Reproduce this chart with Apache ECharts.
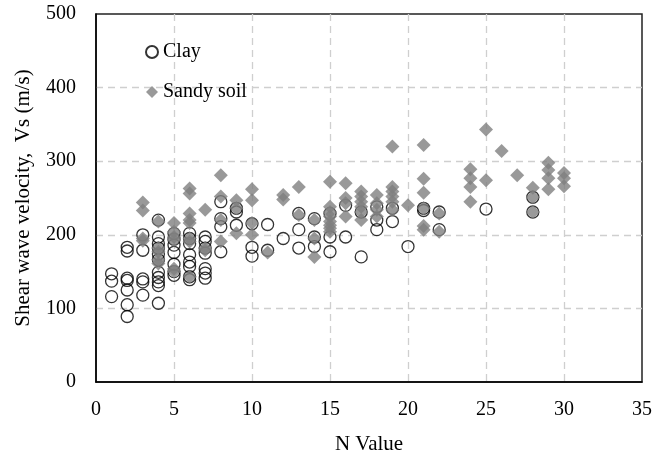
<!DOCTYPE html>
<html>
<head>
<meta charset="utf-8">
<title>Vs vs N</title>
<script src="https://cdn.jsdelivr.net/npm/echarts@6/dist/echarts.min.js"></script>
<style>
    html, body { margin: 0; padding: 0; background: #fff; }
    #scatter { width: 669px; height: 460px; }
</style>
</head>
<body>
<div id="scatter"></div>
<script>
// 数据 [N value, Vs]
var clayPoints = [
    [1, 147], [1, 137], [1, 116],
    [2, 183], [2, 178], [2, 141], [2, 138], [2, 125], [2, 105], [2, 89],
    [3, 200], [3, 179], [3, 140], [3, 136], [3, 118],
    [4, 220], [4, 197], [4, 188], [4, 182], [4, 174], [4, 166], [4, 149], [4, 142], [4, 136], [4, 131], [4, 107],
    [5, 202], [5, 194], [5, 186], [5, 176], [5, 160], [5, 150], [5, 145],
    [6, 202], [6, 195], [6, 188], [6, 173], [6, 163], [6, 157], [6, 143], [6, 139],
    [7, 197], [7, 191], [7, 182], [7, 175], [7, 154], [7, 148], [7, 141],
    [8, 245], [8, 222], [8, 211], [8, 177],
    [9, 236], [9, 231], [9, 213],
    [10, 215], [10, 183], [10, 171],
    [11, 214], [11, 179],
    [12, 195],
    [13, 229], [13, 207], [13, 182],
    [14, 222], [14, 197], [14, 184],
    [15, 229], [15, 197], [15, 177],
    [16, 240], [16, 197],
    [17, 231], [17, 170],
    [18, 238], [18, 220], [18, 207],
    [19, 236], [19, 218],
    [20, 184],
    [21, 236], [21, 233],
    [22, 231], [22, 207],
    [25, 235],
    [28, 251], [28, 231]
];
var sandPoints = [
    [3, 244], [3, 233], [3, 195], [3, 192],
    [4, 218], [4, 182], [4, 177], [4, 166], [4, 161],
    [5, 216], [5, 204], [5, 197], [5, 193], [5, 154], [5, 150],
    [6, 263], [6, 256], [6, 229], [6, 220], [6, 216], [6, 195], [6, 191], [6, 143],
    [7, 234], [7, 182], [7, 179],
    [8, 281], [8, 252], [8, 220], [8, 191],
    [9, 247], [9, 236], [9, 202],
    [10, 262], [10, 247], [10, 216], [10, 200],
    [11, 176],
    [12, 254], [12, 248],
    [13, 265], [13, 227],
    [14, 220], [14, 195], [14, 170],
    [15, 272], [15, 238], [15, 231], [15, 225], [15, 218], [15, 213], [15, 209], [15, 204],
    [16, 270], [16, 250], [16, 243], [16, 225],
    [17, 259], [17, 252], [17, 245], [17, 238], [17, 231], [17, 220],
    [18, 254], [18, 243], [18, 234], [18, 225],
    [19, 320], [19, 265], [19, 259], [19, 252], [19, 245], [19, 234],
    [20, 240],
    [21, 322], [21, 276], [21, 257], [21, 236], [21, 212], [21, 207],
    [22, 229], [22, 204],
    [24, 289], [24, 277], [24, 265], [24, 245],
    [25, 343], [25, 274],
    [26, 314],
    [27, 281],
    [28, 264], [28, 251], [28, 231],
    [29, 298], [29, 288], [29, 277], [29, 262],
    [30, 284], [30, 277], [30, 266]
];
var seriesNames = ['Clay', 'Sandy soil'];

var font = 'Liberation Serif';
var gridDash = { color: '#cfcfcf', type: [7, 5], width: 1.3 };

var chart = echarts.init(document.getElementById('scatter'));
var option = {
    animation: false,
    grid: {
        left: 96,
        right: 27,
        top: 14,
        bottom: 78,
        show: true,
        borderColor: '#222',
        borderWidth: 1.5
    },
    legend: {
        orient: 'vertical',
        left: 140,
        top: 37,
        itemWidth: 12,
        itemHeight: 12,
        itemGap: 20,
        data: seriesNames,
        textStyle: {
            fontFamily: font,
            fontSize: 20,
            color: '#000'
        }
    },
    xAxis: {
        type: 'value',
        min: 0,
        max: 35,
        interval: 5,
        name: 'N Value',
        nameLocation: 'middle',
        nameGap: 52,
        nameTextStyle: { fontFamily: font, fontSize: 21, color: '#000' },
        axisLine: { show: true, lineStyle: { color: '#000', width: 1.5 } },
        axisTick: { show: false },
        axisLabel: { margin: 18, fontFamily: font, fontSize: 20, color: '#000' },
        splitLine: { show: true, showMinLine: false, showMaxLine: false, lineStyle: gridDash }
    },
    yAxis: {
        type: 'value',
        min: 0,
        max: 500,
        interval: 100,
        name: 'Shear wave velocity,  Vs (m/s)',
        nameLocation: 'middle',
        nameGap: 62,
        nameTextStyle: { fontFamily: font, fontSize: 21, color: '#000' },
        axisLine: { show: true, lineStyle: { color: '#000', width: 1.5 } },
        axisTick: { show: false },
        axisLabel: { margin: 20, fontFamily: font, fontSize: 20, color: '#000' },
        splitLine: { show: true, showMinLine: false, showMaxLine: false, lineStyle: gridDash }
    },
    series: [{
        name: seriesNames[0],
        type: 'scatter',
        symbol: 'circle',
        symbolSize: 12,
        data: clayPoints,
        itemStyle: {
            color: 'rgba(255,255,255,0)',
            borderColor: '#000',
            borderWidth: 1.3
        }
    }, {
        name: seriesNames[1],
        type: 'scatter',
        symbol: 'diamond',
        symbolSize: [14, 14],
        data: sandPoints,
        itemStyle: {
            color: '#808080'
        }
    }]
};
chart.setOption(option);
</script>
</body>
</html>
